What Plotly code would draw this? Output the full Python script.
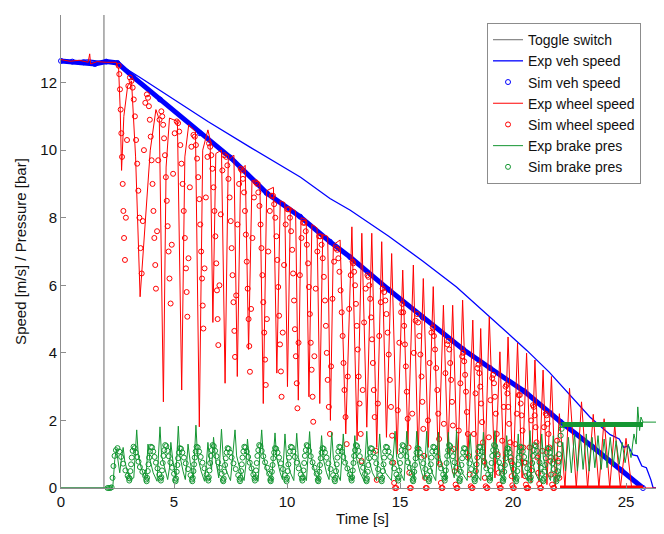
import plotly.graph_objects as go

# ---------------- data ----------------
toggle_t = [0, 1.9, 1.9, 26.7]
toggle_v = [0, 0, 15, 15]

veh_exp_t = [0, 0.6, 1.2, 1.8, 2.5, 3.5, 5.0, 6.5, 8.36, 10.6, 11.9, 12.8, 14.5, 16.0, 17.5, 18.98,
             20.6, 21.6, 22.5, 23.4, 24.3, 24.7, 24.9, 25.1, 25.3, 25.5, 25.7, 25.9, 26.1, 26.2, 26.7]
veh_exp_v = [12.66, 12.64, 12.67, 12.62, 12.57, 12.15, 11.5, 10.85, 10.09, 9.2, 8.57, 8.22, 7.45, 6.72, 5.95, 5.07,
             4.08, 3.43, 2.75, 2.1, 1.58, 1.45, 1.2, 1.25, 0.98, 0.95, 0.65, 0.6, 0.24, 0.0, 0.0]

veh_sim_t = [0, 0.5, 1.0, 1.5, 2.0, 2.5, 3.2, 4.38, 6.15, 7.5, 9.1, 10.58, 11.9, 12.8, 14.5, 16.0,
             17.8, 18.98, 20.5, 21.64, 22.1, 23.5, 24.8, 25.75]
veh_sim_v = [12.64, 12.62, 12.6, 12.55, 12.62, 12.58, 12.16, 11.5, 10.5, 9.78, 8.73, 8.03, 7.29, 6.83, 5.87, 5.05,
             4.1, 3.55, 2.86, 2.22, 1.96, 1.23, 0.52, 0.0]

wheel_exp_t = [0, 0.4, 0.8, 1.2, 1.27, 1.31, 1.6, 2.0, 2.45,
               2.55, 2.62, 2.68, 2.78, 2.95, 3.12, 3.3, 3.5, 3.7, 3.95, 4.2, 4.35, 4.53, 4.65, 4.8,
               5.15, 5.34, 5.48, 5.65, 5.95, 6.12, 6.27, 6.5, 6.6, 6.72, 6.85, 7.1, 7.26, 7.4, 7.65,
               7.8, 7.95, 8.15, 8.3, 8.45, 8.8, 8.95, 9.1, 9.4, 9.55, 9.7, 9.9, 10.02, 10.15, 10.38,
               10.5, 10.62, 10.85, 10.97, 11.1, 11.33, 11.45, 11.58, 11.8, 11.92, 12.05,
               12.35, 12.6, 12.87, 13.1, 13.31, 13.53, 13.75, 13.97, 14.19, 14.4, 14.63, 14.87,
               15.12, 15.35, 15.59, 15.8, 16.03, 16.25, 16.47, 16.7, 16.92, 17.12, 17.33, 17.55,
               17.77, 18.0, 18.22, 18.4, 18.57, 18.76, 18.95, 19.2, 19.42, 19.6, 19.78, 20.0,
               20.2, 20.4, 20.6, 20.8, 20.97, 21.15, 21.33, 21.5, 21.7, 21.88, 22.05, 22.3,
               22.5, 22.8, 23.03, 23.3, 23.55, 23.8, 24.03, 24.28, 24.5, 24.75, 25.0, 25.25, 26.7]
wheel_exp_v = [12.68, 12.63, 12.66, 12.6, 12.85, 12.55, 12.62, 12.6, 12.6,
               12.4, 11.2, 9.4, 11.0, 11.9, 12.05, 9.8, 5.66, 7.6, 10.0, 11.2, 10.9, 2.55, 9.5, 10.95,
               10.85, 2.9, 9.8, 10.75, 10.55, 1.81, 10.0, 10.6, 10.3, 4.9, 9.9, 10.0, 3.1, 9.7, 9.85,
               3.3, 9.4, 9.55, 4.1, 9.1, 9.05, 2.5, 8.8, 8.9, 3.4, 8.5, 8.45, 3.0, 8.3, 8.2,
               2.6, 8.0, 7.95, 2.7, 7.8, 7.7, 2.5, 7.5, 7.45, 2.0, 7.2,
               7.34, 1.6, 7.73, 1.4, 7.54, 1.8, 7.54, 1.2, 7.29, 1.5, 6.94, 1.0,
               6.45, 1.3, 6.6, 0.9, 6.2, 1.2, 5.96, 0.7, 5.41, 1.0, 5.41, 0.5,
               5.56, 0.8, 4.97, 0.4, 4.72, 0.6, 5.07, 0.3, 4.03, 0.4, 4.47, 0.2,
               4.29, 0.3, 3.99, 0.15, 3.79, 0.2, 3.49, 0.1, 3.3, 0.05, 2.2, 0.0,
               2.95, 0.0, 2.55, 0.0, 2.18, 0.0, 2.05, 0.0, 1.86, 0.0, 1.47, 0.0, 0.0]

# simulated wheel speed circles, one row per ABS cycle
wheel_sim_t = [
    [2.55, 2.58, 2.61, 2.64, 2.67, 2.70, 2.73, 2.76, 2.79, 2.83, 2.87, 2.92, 2.98, 3.05],
    [3.12, 3.17, 3.22, 3.27, 3.32, 3.37, 3.42, 3.47, 3.52, 3.57, 3.62, 3.67, 3.73, 3.80],
    [3.85, 3.89, 3.93, 3.97, 4.01, 4.05, 4.09, 4.13, 4.17, 4.20, 4.25, 4.30, 4.36, 4.44],
    [4.48, 4.52, 4.56, 4.60, 4.64, 4.68, 4.72, 4.76, 4.80, 4.85, 4.90, 4.96, 5.03, 5.12],
    [5.18, 5.23, 5.28, 5.33, 5.38, 5.43, 5.48, 5.53, 5.56, 5.59, 5.64, 5.70, 5.77, 5.86],
    [5.92, 5.97, 6.02, 6.07, 6.12, 6.16, 6.20, 6.24, 6.27, 6.30, 6.35, 6.41, 6.48, 6.55],
    [6.60, 6.65, 6.70, 6.75, 6.79, 6.83, 6.87, 6.90, 6.93, 6.96, 7.01, 7.07, 7.14, 7.22],
    [7.31, 7.36, 7.41, 7.46, 7.51, 7.55, 7.59, 7.63, 7.67, 7.70, 7.75, 7.81, 7.88, 7.95],
    [8.00, 8.05, 8.10, 8.14, 8.18, 8.22, 8.26, 8.30, 8.33, 8.36, 8.41, 8.47, 8.54, 8.62],
    [8.68, 8.73, 8.78, 8.83, 8.87, 8.91, 8.95, 8.99, 9.03, 9.06, 9.11, 9.17, 9.24, 9.32],
    [9.38, 9.43, 9.48, 9.53, 9.57, 9.61, 9.65, 9.69, 9.73, 9.76, 9.81, 9.87, 9.94, 10.02],
    [10.08, 10.13, 10.18, 10.23, 10.27, 10.31, 10.35, 10.39, 10.43, 10.46, 10.51, 10.57, 10.64, 10.72],
    [10.78, 10.83, 10.88, 10.93, 10.97, 11.01, 11.05, 11.09, 11.13, 11.16, 11.21, 11.27, 11.34, 11.42],
    [11.48, 11.53, 11.58, 11.63, 11.68, 11.72, 11.76, 11.80, 11.85, 11.90, 11.95, 12.01, 12.08, 12.16],
    [12.22, 12.27, 12.32, 12.37, 12.42, 12.46, 12.50, 12.54, 12.59, 12.64, 12.69, 12.75, 12.82, 12.90],
    [12.93, 12.97, 13.01, 13.05, 13.09, 13.13, 13.17, 13.21, 13.26, 13.30, 13.35, 13.41, 13.48, 13.56],
    [13.60, 13.64, 13.68, 13.72, 13.76, 13.80, 13.84, 13.88, 13.93, 13.97, 14.02, 14.08, 14.15, 14.23],
    [14.30, 14.35, 14.40, 14.45, 14.50, 14.55, 14.60, 14.65, 14.70, 14.74, 14.78, 14.83, 14.90, 14.97, 15.05],
    [15.10, 15.14, 15.18, 15.22, 15.26, 15.30, 15.34, 15.38, 15.41, 15.44, 15.48, 15.54, 15.61, 15.69],
    [15.75, 15.80, 15.85, 15.90, 15.95, 15.99, 16.03, 16.07, 16.11, 16.14, 16.18, 16.24, 16.31, 16.39],
    [16.45, 16.50, 16.55, 16.60, 16.65, 16.69, 16.73, 16.77, 16.81, 16.84, 16.88, 16.94, 17.01, 17.09],
    [17.14, 17.18, 17.22, 17.26, 17.30, 17.34, 17.38, 17.42, 17.46, 17.50, 17.54, 17.60, 17.67, 17.75],
    [17.80, 17.84, 17.88, 17.92, 17.96, 18.00, 18.04, 18.08, 18.13, 18.17, 18.21, 18.27, 18.34, 18.42],
    [18.47, 18.51, 18.55, 18.59, 18.63, 18.67, 18.71, 18.75, 18.79, 18.83, 18.87, 18.93, 19.00, 19.08],
    [19.12, 19.16, 19.20, 19.24, 19.28, 19.32, 19.36, 19.39, 19.42, 19.46, 19.52, 19.59, 19.67],
    [19.71, 19.75, 19.79, 19.83, 19.87, 19.91, 19.94, 19.97, 20.00, 20.04, 20.10, 20.17, 20.25],
    [20.30, 20.34, 20.38, 20.42, 20.46, 20.50, 20.54, 20.57, 20.60, 20.63, 20.67, 20.73, 20.80, 20.88],
    [20.92, 20.96, 21.00, 21.04, 21.08, 21.12, 21.16, 21.20, 21.24, 21.30, 21.37, 21.45],
    [21.49, 21.53, 21.57, 21.61, 21.65, 21.69, 21.73, 21.78, 21.82, 21.88, 21.95, 22.00, 22.05],
]
wheel_sim_v = [
    [12.5, 12.25, 11.8, 11.2, 10.5, 9.8, 9.0, 8.2, 7.4, 6.75, 8.0, 10.3, 11.9, 12.15],
    [12.05, 11.85, 11.5, 11.0, 10.3, 9.6, 8.8, 8.0, 7.1, 6.35, 7.9, 10.0, 11.4, 11.65],
    [11.55, 11.3, 10.9, 10.4, 9.7, 9.0, 8.2, 7.4, 6.6, 5.9, 7.6, 9.7, 10.9, 11.15],
    [11.0, 10.75, 10.35, 9.85, 9.2, 8.5, 7.75, 7.0, 6.2, 5.46, 7.2, 9.3, 10.5, 10.85],
    [10.8, 10.55, 10.15, 9.6, 9.0, 8.2, 7.4, 6.5, 5.8, 5.07, 6.8, 8.9, 10.1, 10.45],
    [10.4, 10.15, 9.75, 9.2, 8.55, 7.8, 7.0, 6.2, 5.4, 4.72, 6.5, 8.6, 9.8, 10.2],
    [10.1, 9.85, 9.45, 8.9, 8.2, 7.45, 6.65, 5.85, 5.0, 4.23, 6.0, 8.1, 9.4, 9.85],
    [9.8, 9.55, 9.15, 8.6, 7.9, 7.1, 6.3, 5.5, 4.65, 3.88, 5.7, 7.8, 9.0, 9.45],
    [9.4, 9.15, 8.75, 8.2, 7.5, 6.7, 5.9, 5.0, 4.2, 3.44, 5.3, 7.4, 8.6, 9.05],
    [9.0, 8.75, 8.35, 7.8, 7.1, 6.3, 5.5, 4.6, 3.8, 3.05, 5.0, 7.0, 8.2, 8.65],
    [8.65, 8.4, 8.0, 7.45, 6.75, 5.95, 5.1, 4.25, 3.45, 2.7, 4.6, 6.6, 7.8, 8.25],
    [8.25, 8.0, 7.6, 7.05, 6.35, 5.55, 4.7, 3.9, 3.1, 2.36, 4.3, 6.3, 7.4, 7.85],
    [7.85, 7.6, 7.2, 6.65, 5.95, 5.15, 4.3, 3.5, 2.7, 1.96, 3.9, 5.9, 7.0, 7.45],
    [7.45, 7.2, 6.8, 6.25, 5.55, 4.8, 4.0, 3.2, 2.4, 1.6, 3.6, 5.6, 6.7, 7.1],
    [7.05, 6.8, 6.4, 5.85, 5.2, 4.5, 3.7, 2.9, 2.1, 1.3, 3.3, 5.3, 6.3, 6.7],
    [6.65, 6.4, 6.0, 5.45, 4.8, 4.1, 3.3, 2.5, 1.6, 0.8, 2.9, 4.9, 5.9, 6.3],
    [6.25, 6.0, 5.6, 5.05, 4.4, 3.7, 2.9, 2.1, 1.1, 0.24, 2.5, 4.5, 5.5, 5.9],
    [5.8, 5.55, 5.15, 4.6, 3.95, 3.2, 2.4, 1.55, 0.75, 0.15, 0.0, 0.0, 2.3, 4.3, 5.2],
    [5.45, 5.2, 4.8, 4.25, 3.6, 2.85, 2.05, 1.2, 0.45, 0.0, 0.0, 2.2, 4.0, 4.95],
    [5.15, 4.9, 4.5, 3.95, 3.3, 2.55, 1.75, 0.95, 0.3, 0.0, 0.0, 2.0, 3.7, 4.6],
    [4.75, 4.5, 4.1, 3.55, 2.9, 2.2, 1.45, 0.7, 0.15, 0.0, 0.0, 1.9, 3.4, 4.25],
    [4.35, 4.1, 3.7, 3.2, 2.55, 1.85, 1.15, 0.5, 0.1, 0.0, 0.0, 1.7, 3.1, 3.9],
    [4.0, 3.75, 3.35, 2.85, 2.25, 1.6, 0.95, 0.4, 0.05, 0.0, 0.0, 1.6, 2.8, 3.55],
    [3.65, 3.4, 3.0, 2.5, 1.95, 1.35, 0.8, 0.3, 0.05, 0.0, 0.0, 1.5, 2.6, 3.25],
    [3.35, 3.1, 2.7, 2.2, 1.6, 1.0, 0.45, 0.1, 0.0, 0.0, 1.4, 2.4, 3.0],
    [3.05, 2.8, 2.4, 1.9, 1.35, 0.8, 0.35, 0.08, 0.0, 0.0, 1.3, 2.2, 2.75],
    [2.75, 2.5, 2.15, 1.7, 1.2, 0.75, 0.35, 0.1, 0.0, 0.0, 0.0, 1.2, 2.0, 2.45],
    [2.4, 2.15, 1.8, 1.35, 0.9, 0.45, 0.12, 0.0, 0.0, 1.1, 1.8, 2.2],
    [2.15, 1.9, 1.6, 1.2, 0.8, 0.4, 0.1, 0.0, 0.0, 0.9, 1.4, 0.8, 0.3],
]
wheel_lock_t = [22.08, 25.75]
wheel_lock_v = [0.0, 0.0]

brake_exp_t = [0, 2.22, 2.3, 2.38, 2.45, 2.52, 2.6, 2.68, 2.75, 2.82, 2.95, 3.1, 3.22,
               3.35, 3.42, 3.55, 3.7, 3.78, 3.85, 3.93, 4.08, 4.25,
               4.38, 4.45, 4.6, 4.72, 4.8, 4.86, 4.95, 5.08,
               5.19, 5.26, 5.4, 5.5, 5.56, 5.62, 5.72, 5.86,
               5.97, 6.04, 6.2, 6.35, 6.43, 6.5, 6.58, 6.66, 6.75, 6.84, 6.98,
               7.1, 7.17, 7.32, 7.5,
               7.7, 7.77, 7.92, 8.1, 8.18, 8.25, 8.33, 8.5, 8.72,
               8.88, 8.95, 9.1, 9.32,
               9.47, 9.54, 9.7, 9.8,
               9.91, 9.98, 10.15, 10.3,
               10.43, 10.5, 10.68, 10.86,
               11.0, 11.07, 11.24, 11.4,
               11.53, 11.6, 11.75, 11.86,
               11.98, 12.05, 12.22, 12.36,
               12.49, 12.56, 12.72, 12.88,
               13.0, 13.07, 13.24, 13.4,
               13.53, 13.6, 13.78, 13.96,
               14.1, 14.17, 14.36, 14.62,
               14.78, 14.85, 15.02, 15.18,
               15.3, 15.37, 15.52, 15.63,
               15.74, 15.81, 15.96, 16.07,
               16.18, 16.25, 16.42, 16.58,
               16.7, 16.77, 16.93, 17.04,
               17.14, 17.2, 17.32, 17.4,
               17.5, 17.57, 17.75, 17.97,
               18.1, 18.17, 18.35, 18.57,
               18.69, 18.76, 18.93, 19.08,
               19.2, 19.27, 19.43, 19.6,
               19.72, 19.79, 19.95, 20.11,
               20.23, 20.3, 20.46, 20.63,
               20.75, 20.82, 20.98, 21.15,
               21.27, 21.34, 21.5, 21.66,
               21.78, 21.85, 21.98, 22.08,
               22.2, 22.32, 22.45, 22.58, 22.72, 22.85, 22.98, 23.1, 23.24, 23.37, 23.5, 23.62,
               23.76, 23.9, 24.03, 24.16, 24.3, 24.43, 24.56, 24.7, 24.83, 24.96, 25.1, 25.22,
               25.35, 25.45, 25.52, 25.6, 25.66, 25.75, 26.7]
brake_exp_v = [0, 0, 0.1, 0.85, 1.15, 0.75, 0.45, 0.9, 1.2, 0.8, 0.45, 0.25, 0.3,
               1.72, 0.95, 0.6, 0.3, 0.5, 1.3, 0.85, 0.45, 0.2,
               1.81, 0.95, 0.55, 0.25, 0.6, 1.35, 0.8, 0.3,
               1.83, 0.95, 0.5, 0.25, 0.7, 1.3, 0.75, 0.3,
               1.86, 0.95, 0.5, 0.2, 0.7, 1.35, 0.8, 0.55, 1.5, 0.85, 0.3,
               1.74, 0.95, 0.5, 0.22,
               1.72, 0.95, 0.55, 0.22, 0.7, 1.45, 0.85, 0.4, 0.2,
               1.72, 0.95, 0.5, 0.22,
               1.63, 0.9, 0.45, 0.25,
               1.6, 0.9, 0.45, 0.22,
               1.62, 0.9, 0.45, 0.22,
               1.67, 0.9, 0.45, 0.22,
               1.55, 0.88, 0.45, 0.25,
               1.65, 0.9, 0.45, 0.22,
               1.6, 0.9, 0.45, 0.22,
               1.55, 0.88, 0.45, 0.22,
               1.68, 0.9, 0.45, 0.22,
               1.6, 0.9, 0.45, 0.22,
               1.68, 0.9, 0.45, 0.22,
               1.68, 0.9, 0.45, 0.25,
               1.68, 0.9, 0.45, 0.25,
               1.68, 0.9, 0.45, 0.22,
               1.65, 0.9, 0.45, 0.25,
               1.65, 0.9, 0.5, 0.3,
               1.7, 0.9, 0.45, 0.22,
               1.6, 0.9, 0.45, 0.22,
               1.65, 0.9, 0.45, 0.22,
               1.7, 0.9, 0.45, 0.22,
               1.55, 0.88, 0.45, 0.22,
               1.6, 0.9, 0.45, 0.22,
               1.7, 0.9, 0.45, 0.22,
               1.6, 0.9, 0.45, 0.22,
               1.55, 0.9, 0.5, 0.3,
               1.35, 0.5, 1.5, 0.45, 1.6, 0.5, 1.55, 0.55, 1.6, 0.5, 1.5, 0.6,
               1.55, 0.55, 1.45, 0.6, 1.5, 0.65, 1.4, 0.7, 1.35, 0.75, 1.3, 0.9,
               1.6, 1.3, 2.4, 1.7, 2.1, 1.95, 1.95]

# simulated brake pressure circles, one row per ABS cycle
brake_sim_t = [
    [2.06, 2.12, 2.18, 2.24, 2.28, 2.32, 2.37, 2.43, 2.5, 2.58, 2.66, 2.75, 2.85, 2.95],
    [3.00, 3.02, 3.04, 3.07, 3.10, 3.13, 3.17, 3.21, 3.26, 3.31, 3.37, 3.43, 3.49, 3.60, 3.72],
    [3.77, 3.79, 3.81, 3.84, 3.87, 3.90, 3.94, 3.98, 4.03, 4.08, 4.14, 4.20, 4.27, 4.35],
    [4.40, 4.42, 4.44, 4.47, 4.50, 4.53, 4.57, 4.61, 4.66, 4.71, 4.77, 4.84, 4.92, 5.00],
    [5.05, 5.07, 5.09, 5.12, 5.15, 5.18, 5.22, 5.26, 5.31, 5.37, 5.44, 5.52, 5.62, 5.73],
    [5.79, 5.81, 5.83, 5.86, 5.89, 5.92, 5.96, 6.00, 6.05, 6.11, 6.18, 6.26, 6.35, 6.44],
    [6.50, 6.52, 6.54, 6.57, 6.60, 6.63, 6.67, 6.71, 6.76, 6.82, 6.88, 6.95, 7.03, 7.11],
    [7.16, 7.18, 7.20, 7.23, 7.26, 7.29, 7.33, 7.37, 7.42, 7.48, 7.55, 7.63, 7.73, 7.84],
    [7.90, 7.92, 7.94, 7.97, 8.00, 8.03, 8.07, 8.11, 8.16, 8.22, 8.28, 8.35, 8.43, 8.51],
    [8.56, 8.58, 8.60, 8.63, 8.66, 8.69, 8.73, 8.77, 8.82, 8.88, 8.95, 9.03, 9.12, 9.21],
    [9.26, 9.28, 9.30, 9.33, 9.36, 9.39, 9.43, 9.47, 9.52, 9.58, 9.65, 9.73, 9.82, 9.91],
    [9.96, 9.98, 10.00, 10.03, 10.06, 10.09, 10.13, 10.17, 10.22, 10.28, 10.35, 10.43, 10.52, 10.61],
    [10.66, 10.68, 10.70, 10.73, 10.76, 10.79, 10.83, 10.87, 10.92, 10.98, 11.05, 11.13, 11.22, 11.31],
    [11.36, 11.38, 11.40, 11.43, 11.46, 11.49, 11.53, 11.57, 11.62, 11.68, 11.75, 11.83, 11.93, 12.04],
    [12.10, 12.12, 12.14, 12.17, 12.20, 12.23, 12.27, 12.31, 12.36, 12.42, 12.49, 12.57, 12.67, 12.78],
    [12.84, 12.86, 12.88, 12.91, 12.94, 12.97, 13.01, 13.05, 13.10, 13.16, 13.22, 13.29, 13.37, 13.45],
    [13.50, 13.52, 13.54, 13.57, 13.60, 13.63, 13.67, 13.71, 13.76, 13.82, 13.88, 13.95, 14.03, 14.12],
    [14.17, 14.19, 14.21, 14.24, 14.27, 14.30, 14.34, 14.38, 14.43, 14.49, 14.56, 14.64, 14.74, 14.84],
    [14.90, 14.92, 14.94, 14.97, 15.00, 15.03, 15.07, 15.11, 15.16, 15.22, 15.28, 15.35, 15.43, 15.51],
    [15.56, 15.58, 15.60, 15.63, 15.66, 15.69, 15.73, 15.77, 15.82, 15.88, 15.95, 16.03, 16.12, 16.21],
    [16.26, 16.28, 16.30, 16.33, 16.36, 16.39, 16.43, 16.47, 16.52, 16.58, 16.65, 16.73, 16.82, 16.91],
    [16.96, 16.98, 17.00, 17.03, 17.06, 17.09, 17.13, 17.17, 17.22, 17.28, 17.34, 17.41, 17.49, 17.57],
    [17.62, 17.64, 17.66, 17.69, 17.72, 17.75, 17.79, 17.83, 17.88, 17.94, 18.00, 18.07, 18.15, 18.24],
    [18.29, 18.31, 18.33, 18.36, 18.39, 18.42, 18.46, 18.50, 18.55, 18.61, 18.67, 18.74, 18.82, 18.90],
    [18.95, 18.97, 18.99, 19.02, 19.05, 19.08, 19.12, 19.16, 19.21, 19.26, 19.32, 19.38, 19.44, 19.50],
    [19.54, 19.56, 19.58, 19.61, 19.64, 19.67, 19.71, 19.75, 19.80, 19.85, 19.90, 19.96, 20.02, 20.08],
    [20.12, 20.14, 20.16, 20.19, 20.22, 20.25, 20.29, 20.33, 20.38, 20.43, 20.49, 20.56, 20.63, 20.70],
    [20.75, 20.77, 20.79, 20.82, 20.85, 20.88, 20.92, 20.96, 21.01, 21.06, 21.11, 21.17, 21.23, 21.28],
    [21.32, 21.34, 21.36, 21.39, 21.42, 21.45, 21.49, 21.53, 21.58, 21.63, 21.68, 21.74, 21.80, 21.86],
    [21.90, 21.92, 21.94, 21.97, 22.00, 22.03, 22.07, 22.11, 22.15, 22.18],
]
brake_sim_v = [
    [0.0, 0.0, 0.0, 0.02, 0.3, 0.65, 0.95, 1.12, 1.18, 1.08, 0.92, 0.72, 0.52, 0.36],
    [0.3, 0.22, 0.28, 0.5, 0.7, 0.9, 1.1, 1.22, 1.18, 1.05, 0.92, 0.78, 0.62, 0.48, 0.36],
    [0.25, 0.2, 0.3, 0.5, 0.7, 0.9, 1.08, 1.22, 1.2, 1.08, 0.92, 0.75, 0.58, 0.4],
    [0.28, 0.22, 0.32, 0.52, 0.74, 0.95, 1.12, 1.27, 1.24, 1.1, 0.94, 0.76, 0.6, 0.42],
    [0.24, 0.2, 0.28, 0.48, 0.68, 0.88, 1.05, 1.18, 1.16, 1.05, 0.9, 0.73, 0.56, 0.38],
    [0.25, 0.2, 0.3, 0.5, 0.7, 0.9, 1.08, 1.22, 1.2, 1.08, 0.92, 0.75, 0.58, 0.4],
    [0.28, 0.22, 0.32, 0.52, 0.74, 0.95, 1.12, 1.27, 1.24, 1.1, 0.94, 0.76, 0.6, 0.42],
    [0.24, 0.2, 0.28, 0.48, 0.68, 0.88, 1.05, 1.18, 1.16, 1.05, 0.9, 0.73, 0.56, 0.38],
    [0.25, 0.2, 0.3, 0.5, 0.7, 0.9, 1.08, 1.22, 1.2, 1.08, 0.92, 0.75, 0.58, 0.4],
    [0.28, 0.22, 0.32, 0.52, 0.74, 0.95, 1.12, 1.27, 1.24, 1.1, 0.94, 0.76, 0.6, 0.42],
    [0.24, 0.2, 0.28, 0.48, 0.68, 0.88, 1.05, 1.18, 1.16, 1.05, 0.9, 0.73, 0.56, 0.38],
    [0.25, 0.2, 0.3, 0.5, 0.7, 0.9, 1.08, 1.22, 1.2, 1.08, 0.92, 0.75, 0.58, 0.4],
    [0.28, 0.22, 0.32, 0.52, 0.74, 0.95, 1.12, 1.27, 1.24, 1.1, 0.94, 0.76, 0.6, 0.42],
    [0.24, 0.2, 0.28, 0.48, 0.68, 0.88, 1.05, 1.18, 1.16, 1.05, 0.9, 0.73, 0.56, 0.38],
    [0.25, 0.2, 0.3, 0.5, 0.7, 0.9, 1.08, 1.22, 1.2, 1.08, 0.92, 0.75, 0.58, 0.4],
    [0.28, 0.22, 0.32, 0.52, 0.74, 0.95, 1.12, 1.27, 1.24, 1.1, 0.94, 0.76, 0.6, 0.42],
    [0.24, 0.2, 0.28, 0.48, 0.68, 0.88, 1.05, 1.18, 1.16, 1.05, 0.9, 0.73, 0.56, 0.38],
    [0.25, 0.2, 0.3, 0.5, 0.7, 0.9, 1.08, 1.22, 1.2, 1.08, 0.92, 0.75, 0.58, 0.4],
    [0.28, 0.22, 0.32, 0.52, 0.74, 0.95, 1.12, 1.27, 1.24, 1.1, 0.94, 0.76, 0.6, 0.42],
    [0.24, 0.2, 0.28, 0.48, 0.68, 0.88, 1.05, 1.18, 1.16, 1.05, 0.9, 0.73, 0.56, 0.38],
    [0.25, 0.2, 0.3, 0.5, 0.7, 0.9, 1.08, 1.22, 1.2, 1.08, 0.92, 0.75, 0.58, 0.4],
    [0.28, 0.22, 0.32, 0.52, 0.74, 0.95, 1.12, 1.27, 1.24, 1.1, 0.94, 0.76, 0.6, 0.42],
    [0.24, 0.2, 0.28, 0.48, 0.68, 0.88, 1.05, 1.18, 1.16, 1.05, 0.9, 0.73, 0.56, 0.38],
    [0.25, 0.2, 0.3, 0.5, 0.7, 0.9, 1.08, 1.22, 1.2, 1.08, 0.92, 0.75, 0.58, 0.4],
    [0.28, 0.22, 0.32, 0.52, 0.74, 0.95, 1.12, 1.27, 1.24, 1.1, 0.94, 0.76, 0.6, 0.42],
    [0.24, 0.2, 0.28, 0.48, 0.68, 0.88, 1.05, 1.18, 1.16, 1.05, 0.9, 0.73, 0.56, 0.38],
    [0.25, 0.2, 0.3, 0.5, 0.7, 0.9, 1.08, 1.22, 1.2, 1.08, 0.92, 0.75, 0.58, 0.4],
    [0.28, 0.22, 0.32, 0.52, 0.74, 0.95, 1.12, 1.27, 1.24, 1.1, 0.94, 0.76, 0.6, 0.42],
    [0.24, 0.2, 0.28, 0.48, 0.68, 0.88, 1.05, 1.18, 1.16, 1.05, 0.9, 0.73, 0.56, 0.38],
    [0.25, 0.2, 0.3, 0.5, 0.75, 1.0, 1.3, 1.55, 1.75, 1.86],
]
brake_hold_t = [22.18, 25.75]
brake_hold_v = [1.88, 1.88]

x_ticks = [0, 5, 10, 15, 20, 25]
y_ticks = [0, 2, 4, 6, 8, 10, 12, 14]

# ---------------- styling ----------------
GRAY = "rgb(140,140,140)"
BLUE = "rgb(0,0,255)"
RED = "rgb(255,0,0)"
GREEN = "rgb(20,150,50)"
FONT = "Liberation Sans, Arial, sans-serif"


def flat(rows_t, rows_v):
    xs, ys = [], []
    for rt, rv in zip(rows_t, rows_v):
        for a, b in zip(rt, rv):
            xs.append(a)
            ys.append(b)
    return xs, ys


ws_t, ws_v = flat(wheel_sim_t, wheel_sim_v)
bs_t, bs_v = flat(brake_sim_t, brake_sim_v)

circ = dict(symbol="circle-open", size=5, line=dict(width=1))

fig = go.Figure()
fig.add_trace(go.Scatter(x=toggle_t, y=toggle_v, mode="lines", name="Toggle switch",
                         line=dict(color=GRAY, width=1.3)))
fig.add_trace(go.Scatter(x=veh_exp_t, y=veh_exp_v, mode="lines", name="Exp veh speed",
                         line=dict(color=BLUE, width=1.3)))
fig.add_trace(go.Scatter(x=veh_sim_t, y=veh_sim_v, mode="lines", showlegend=False,
                         legendgroup="sv", line=dict(color=BLUE, width=5), hoverinfo="skip"))
fig.add_trace(go.Scatter(x=veh_sim_t, y=veh_sim_v, mode="markers", name="Sim veh speed",
                         legendgroup="sv", marker=dict(color=BLUE, **circ), cliponaxis=False))
fig.add_trace(go.Scatter(x=wheel_exp_t, y=wheel_exp_v, mode="lines", name="Exp wheel speed",
                         line=dict(color=RED, width=1)))
fig.add_trace(go.Scatter(x=ws_t, y=ws_v, mode="markers", name="Sim wheel speed", legendgroup="sw",
                         marker=dict(color=RED, **circ), cliponaxis=False))
fig.add_trace(go.Scatter(x=wheel_lock_t, y=wheel_lock_v, mode="lines", showlegend=False,
                         legendgroup="sw", line=dict(color=RED, width=5), cliponaxis=False,
                         hoverinfo="skip"))
fig.add_trace(go.Scatter(x=brake_exp_t, y=brake_exp_v, mode="lines", name="Exp brake pres",
                         line=dict(color=GREEN, width=1)))
fig.add_trace(go.Scatter(x=bs_t, y=bs_v, mode="markers", name="Sim brake pres", legendgroup="sb",
                         marker=dict(color=GREEN, **circ), cliponaxis=False))
fig.add_trace(go.Scatter(x=brake_hold_t, y=brake_hold_v, mode="lines", showlegend=False,
                         legendgroup="sb", line=dict(color=GREEN, width=5), hoverinfo="skip"))

axis_common = dict(showline=True, linecolor=GRAY, linewidth=1, ticks="inside", ticklen=5,
                   tickcolor=GRAY, showgrid=False, zeroline=False, mirror=False, automargin=False,
                   tickfont=dict(family=FONT, size=15, color="#111"),
                   title_font=dict(family=FONT, size=15, color="#111"))

# the page body has an 8px default margin, so the figure is sized to fit the window
fig.update_layout(
    width=656, height=526,
    margin=dict(l=53, r=0, t=7, b=46, autoexpand=False),
    paper_bgcolor="white", plot_bgcolor="white",
    font=dict(family=FONT, size=15, color="#111"),
    xaxis=dict(range=[0, 26.68], tickvals=x_ticks, title=dict(text="Time [s]", standoff=4),
               **axis_common),
    yaxis=dict(range=[0, 14], tickvals=y_ticks,
               title=dict(text="Speed [m/s] / Pressure [bar]", standoff=10), **axis_common),
    legend=dict(x=0.7065, y=0.983, xanchor="left", yanchor="top", bgcolor="white",
                bordercolor=GRAY, borderwidth=1, font=dict(family=FONT, size=14, color="#111"),
                tracegroupgap=0, itemwidth=30),
    showlegend=True,
)

fig.write_html("out.html")
